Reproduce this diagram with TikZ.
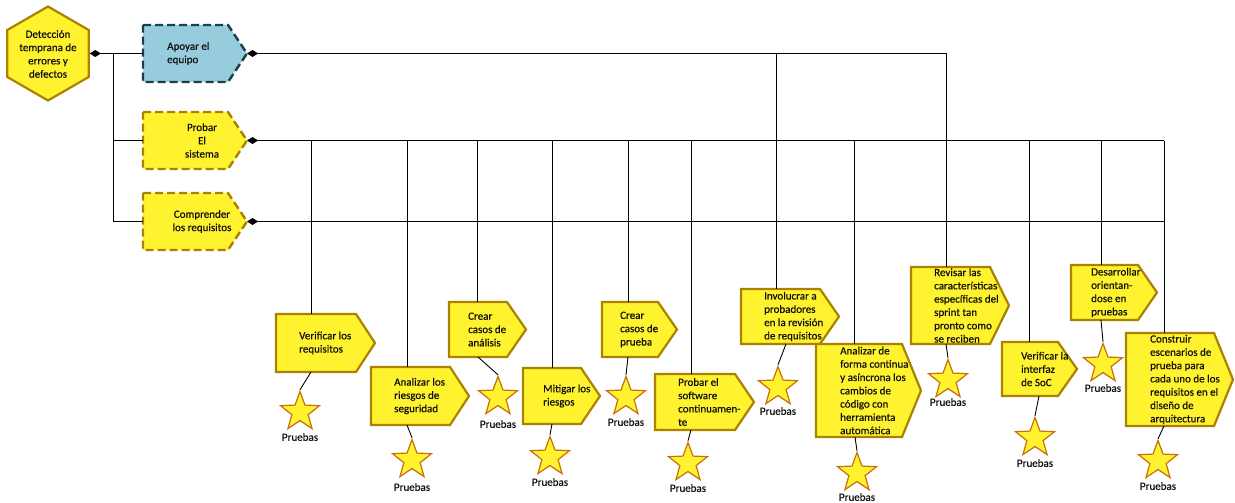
\documentclass[tikz,border=0pt]{standalone}
\usepackage{fontspec}
\setmainfont{Carlito}
\newfontfamily\labelfont{Carlito}[FakeBold=0.45]
\usetikzlibrary{shapes.geometric,arrows.meta,calc}

\definecolor{yfill}{HTML}{FFF22E}
\definecolor{ybord}{HTML}{AA8200}
\definecolor{sbord}{HTML}{C8700A}
\definecolor{bfill}{HTML}{96CCDB}
\definecolor{bbord}{HTML}{1B3F4F}
\definecolor{ink}{HTML}{101010}

% pentagon-arrow box: invisible frame node plus its outline
\newcommand\mkbox[6][boxline]{%
  \node[boxframe, minimum width={(#5-#3)*1pt}, minimum height={(#6-#4)*1pt},
        anchor=north west] (#2) at (#3,#4) {};
  \draw[#1] (#2.north west) -- ([xshift=-19pt]#2.north east) -- (#2.east)
        -- ([xshift=-19pt]#2.south east) -- (#2.south west) -- cycle;
}

\tikzset{
  boxframe/.style={inner sep=0pt, outer sep=0pt, draw=none},
  boxline/.style={draw=ybord, fill=yfill, line width=2.2pt, line join=miter},
  topdash/.style={draw=ybord, fill=yfill, line width=2.4pt, dash pattern=on 8pt off 4pt},
  topblue/.style={draw=bbord, fill=bfill, line width=2.4pt, dash pattern=on 8pt off 4pt},
  txt/.style={inner sep=0pt, align=left, text=ink, font=\labelfont\fontsize{11}{13.3}\selectfont},
  ctxt/.style={txt, align=center},
  lbl/.style={inner sep=0pt, text=ink, font=\labelfont\fontsize{11}{13}\selectfont},
  conn/.style={draw=black, line width=0.9pt},
  tapline/.style={conn, {Diamond[length=11pt,width=7pt]}-},
  starn/.style={star, star points=5, star point ratio=2.4, minimum size=41pt,
                inner sep=0pt, fill=yfill, draw=sbord, line width=1.2pt},
  hexs/.style={regular polygon, regular polygon sides=6, shape border rotate=30,
               minimum size=94pt, inner sep=0pt, fill=yfill, draw=ybord, line width=2.2pt},
}

\begin{document}
\begin{tikzpicture}[x=1pt, y=-1pt]
\useasboundingbox (0,0) rectangle (1235,503);

% ---- root goal and its three sub-goals
\node[hexs] (hex) at (48,53.5) {};
\node[ctxt] (hext) at (48,54) {Detección\\temprana de\\errores y\\defectos};

\mkbox[topblue]{apoyar}{143}{25}{247}{82}
\node[txt, anchor=west] (apoyart) at (167,53.5) {Apoyar el\\equipo};
\mkbox[topdash]{probar}{143}{112}{247}{169}
\node[ctxt] (probart) at (202,140.5) {Probar\\El\\sistema};
\mkbox[topdash]{comp}{143}{193}{247}{250}
\node[ctxt] (compt) at (202,221.5) {Comprender\\los requisitos};

\coordinate (j) at (113,53.5);
\draw[tapline] (hex.east) -- (apoyar.west);
\draw[conn] (j) |- (probar.west);
\draw[conn] (j) |- (comp.west);

% ---- practice boxes
\mkbox{b1}{276}{314}{375}{372}
\node[txt, anchor=west] (b1t) at ([xshift=23pt]b1.west) {Verificar los\\requisitos};
\mkbox{b2}{371}{367}{469}{425}
\node[txt, anchor=west] (b2t) at ([xshift=23pt]b2.west) {Analizar los\\riesgos de\\seguridad};
\mkbox{b3}{449}{302}{526}{357}
\node[txt, anchor=west] (b3t) at ([xshift=19pt]b3.west) {Crear\\casos de\\análisis};
\mkbox{b4}{523}{368}{600}{424}
\node[txt, anchor=west] (b4t) at ([xshift=20pt]b4.west) {Mitigar los\\riesgos};
\mkbox{b5}{602}{302}{677}{357}
\node[txt, anchor=west] (b5t) at ([xshift=18pt]b5.west) {Crear\\casos de\\prueba};
\mkbox{b6}{655}{374}{754}{430}
\node[txt, anchor=west] (b6t) at ([xshift=23pt]b6.west) {Probar el\\software\\continuamen-\\te};
\mkbox{b7}{741}{289}{839}{344}
\node[txt, anchor=west] (b7t) at ([xshift=23pt]b7.west) {Involucrar a\\probadores\\en la revisión\\de requisitos};
\mkbox{b8}{816}{344}{921}{437}
\node[txt, anchor=west] (b8t) at ([xshift=24pt]b8.west) {Analizar de\\forma continua\\y asíncrona los\\cambios de\\código con\\herramienta\\automática};
\mkbox{b9}{911}{267}{1009}{344}
\node[txt, anchor=west] (b9t) at ([xshift=23pt]b9.west) {Revisar las\\características\\específicas del\\sprint tan\\pronto como\\se reciben};
\mkbox{b10}{1002}{342}{1077}{396}
\node[txt, anchor=west] (b10t) at ([xshift=19pt]b10.west) {Verificar la\\interfaz\\de SoC};
\mkbox{b11}{1071}{265}{1157}{320}
\node[txt, anchor=west] (b11t) at ([xshift=20pt]b11.west) {Desarrollar\\orientan-\\dose en\\pruebas};
\mkbox{b12}{1126}{333}{1233}{426}
\node[txt, anchor=west] (b12t) at ([xshift=24pt]b12.west) {Construir\\escenarios de\\prueba para\\cada uno de los\\requisitos en el\\diseño de\\arquitectura};

% ---- main horizontal lines
\coordinate (r1) at (946,53.5);
\coordinate (r2) at (1164,140.5);
\coordinate (r3) at (1164,221.5);
\draw[tapline] (apoyar.east) -- (r1);
\draw[tapline] (probar.east) -- (r2);
\draw[tapline] (comp.east) -- (r3);

% ---- drops to the practice boxes
\coordinate (v1) at (311,140.5);
\coordinate (v2) at (407,140.5);
\coordinate (v3) at (477,140.5);
\coordinate (v4) at (552,140.5);
\coordinate (v5) at (628,140.5);
\coordinate (v6) at (691,140.5);
\coordinate (v7) at (776,53.5);
\coordinate (v8) at (854,140.5);
\coordinate (v10) at (1029,140.5);
\coordinate (v11) at (1101,140.5);
\draw[conn] (v1) -- (v1 |- b1.north);
\draw[conn] (v2) -- (v2 |- b2.north);
\draw[conn] (v3) -- (v3 |- b3.north);
\draw[conn] (v4) -- (v4 |- b4.north);
\draw[conn] (v5) -- (v5 |- b5.north);
\draw[conn] (v6) -- (v6 |- b6.north);
\draw[conn] (v7) -- (v7 |- b7.north);
\draw[conn] (v8) -- (v8 |- b8.north);
\draw[conn] (r1) -- (r1 |- b9.north);
\draw[conn] (v10) -- (v10 |- b10.north);
\draw[conn] (v11) -- (v11 |- b11.north);
\draw[conn] (r2) -- (r2 |- b12.north);

% ---- test stars
\node[starn] (s1) at (300,412) {};
\node[starn] (s2) at (412,460) {};
\node[starn] (s3) at (498,397) {};
\node[starn] (s4) at (550,457) {};
\node[starn] (s5) at (626,397) {};
\node[starn] (s6) at (688,463) {};
\node[starn] (s7) at (778,387) {};
\node[starn] (s8) at (857,473) {};
\node[starn] (s9) at (948,380) {};
\node[starn] (s10) at (1035,438) {};
\node[starn] (s11) at (1103,364) {};
\node[starn] (s12) at (1158,461) {};

\node[lbl] (p1) at (300,437) {Pruebas};
\node[lbl] (p2) at (412,487) {Pruebas};
\node[lbl] (p3) at (498,424) {Pruebas};
\node[lbl] (p4) at (550,482) {Pruebas};
\node[lbl] (p5) at (626,422) {Pruebas};
\node[lbl] (p6) at (688,488) {Pruebas};
\node[lbl] (p7) at (778,411) {Pruebas};
\node[lbl] (p8) at (857,497) {Pruebas};
\node[lbl] (p9) at (948,402) {Pruebas};
\node[lbl] (p10) at (1035,463) {Pruebas};
\node[lbl] (p11) at (1103,388) {Pruebas};
\node[lbl] (p12) at (1158,486) {Pruebas};

\draw[conn] (b1.south -| v1) -- (s1.north);
\draw[conn] (b2.south -| v2) -- (s2.north);
\draw[conn] ([xshift=1pt]b3.south -| v3) -- (s3.north);
\draw[conn] (b4.south -| v4) -- (s4.north);
\draw[conn] (b5.south -| v5) -- (s5.north);
\draw[conn] (b6.south -| v6) -- (s6.north);
\draw[conn] ([xshift=10pt]b7.south -| v7) -- (s7.north);
\draw[conn] ([xshift=1pt]b8.south -| v8) -- (s8.north);
\draw[conn] (b9.south -| r1) -- (s9.north);
\draw[conn] ([xshift=10pt]b10.south -| v10) -- (s10.north);
\draw[conn] (b11.south -| v11) -- (s11.north);
\draw[conn] (b12.south -| r2) -- (s12.north);
\end{tikzpicture}
\end{document}
